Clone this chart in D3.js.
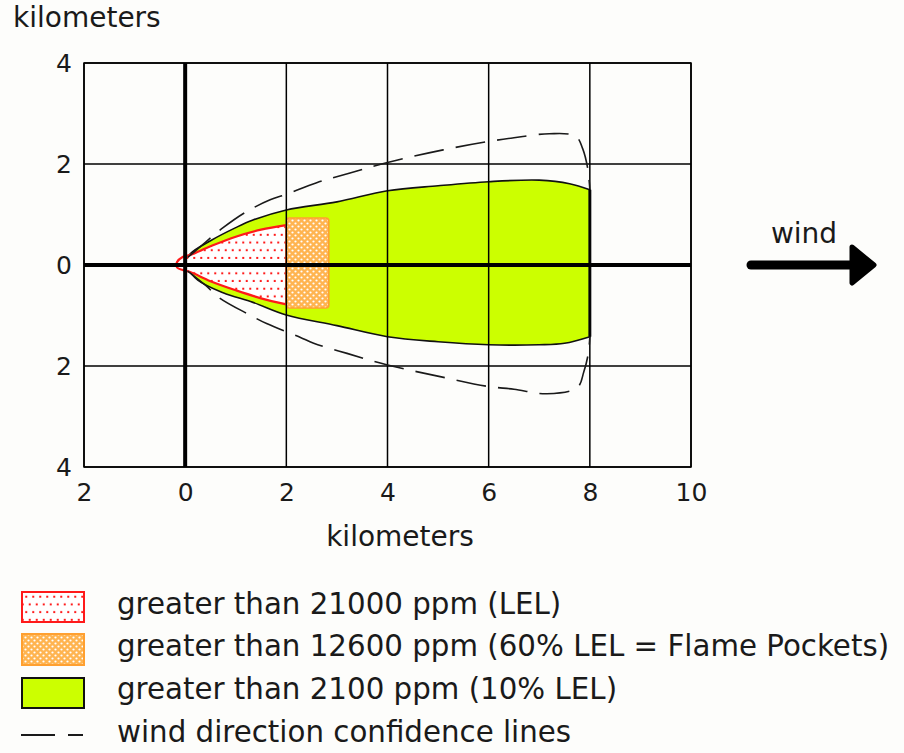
<!DOCTYPE html>
<html>
<head>
<meta charset="utf-8">
<script src="https://cdn.jsdelivr.net/npm/d3@7"></script>
<style>
  body { margin: 0; background: #fdfdfb; }
  svg { display: block; font-family: "DejaVu Sans", Verdana, sans-serif; }
  text { fill: #1a1a1a; }
</style>
</head>
<body>
<div id="chart"></div>
<script>
const width = 904;
const height = 753;

// axis ticks (km)
const xTicks = [-2, 0, 2, 4, 6, 8, 10];
const yTicks = [-4, -2, 0, 2, 4];

// 10% LEL plume envelope (green), upper and lower edges
const plumeUpper = [[0, 0], [0.1, 0.22], [0.5, 0.48], [1, 0.74], [1.34, 0.89], [2, 1.09], [3, 1.25], [4, 1.47], [5, 1.57], [6, 1.65], [7, 1.68], [7.6, 1.61], [8, 1.49]];
const plumeLower = [[0, 0], [0.25, -0.3], [0.75, -0.55], [1.34, -0.74], [2, -0.99], [3, -1.2], [4, -1.42], [5, -1.52], [6, -1.58], [7, -1.58], [7.5, -1.55], [8, -1.42]];

// LEL zone (red dotted)
const lelUpper = [[2, 0.79], [1.5, 0.7], [1, 0.56], [0.5, 0.37], [0.1, 0.2], [-0.05, 0.16], [-0.16, 0.06]];
const lelLower = [[-0.16, -0.05], [-0.05, -0.1], [0.1, -0.14], [0.5, -0.32], [1, -0.5], [1.5, -0.66], [2, -0.78]];

// flame pockets box (orange)
const flameX = [2, 2.84];
const flameY = [-0.85, 0.93];

// wind direction confidence lines
const confUpper = [[0.05, 0.15], [0.4, 0.45], [0.75, 0.74], [1.2, 1.05], [1.68, 1.29], [2, 1.4], [2.6, 1.63], [3.26, 1.82], [4, 2.03], [5.1, 2.28], [5.96, 2.44], [6.5, 2.52], [7.2, 2.6], [7.72, 2.55], [7.86, 2.3], [7.96, 1.9], [8, 1.5]];
const confLower = [[0.05, -0.12], [0.4, -0.4], [0.69, -0.66], [1.28, -0.99], [1.61, -1.16], [2.27, -1.43], [2.54, -1.55], [3.2, -1.75], [4, -1.98], [5.04, -2.21], [5.96, -2.4], [6.5, -2.46], [7.15, -2.55], [7.75, -2.43], [7.88, -2.12], [7.97, -1.75], [8, -1.42]];

const legendLabels = [
    "greater than 21000 ppm (LEL)",
    "greater than 12600 ppm (60% LEL = Flame Pockets)",
    "greater than 2100 ppm (10% LEL)",
    "wind direction confidence lines"
];

const green = "#ccff00";
const red = "#ff1a1a";
const orange = "#ffa030";

const svg = d3.select("#chart")
    .append("svg")
    .attr("width", width)
    .attr("height", height);

svg.append("rect").attr("width", width).attr("height", height).attr("fill", "#fdfdfb");

// patterns
const defs = svg.append("defs");
const redDots = defs.append("pattern")
    .attr("id", "redDots")
    .attr("patternUnits", "userSpaceOnUse")
    .attr("width", 7).attr("height", 15.4);
redDots.append("rect").attr("width", 7).attr("height", 15.4).attr("fill", "#fff");
[[1.75, 3.8], [5.25, 11.5]].forEach(p => {
    redDots.append("rect").attr("x", p[0] - 1).attr("y", p[1] - 1)
        .attr("width", 2).attr("height", 2).attr("fill", red);
});
const orangeDots = defs.append("pattern")
    .attr("id", "orangeDots")
    .attr("patternUnits", "userSpaceOnUse")
    .attr("width", 6).attr("height", 6);
orangeDots.append("rect").attr("width", 6).attr("height", 6).attr("fill", "#ffb450");
[[1.5, 1.5], [4.5, 4.5]].forEach(p => {
    orangeDots.append("circle").attr("cx", p[0]).attr("cy", p[1]).attr("r", 1.1).attr("fill", "#fff");
});

const x = d3.scaleLinear().domain([-2, 10]).range([84, 691]);
const y = d3.scaleLinear().domain([-4, 4]).range([467, 63]);

const line = d3.line()
    .x(d => x(d[0]))
    .y(d => y(d[1]))
    .curve(d3.curveCatmullRom.alpha(0.5));

// join two curved edges with straight segments
function shape(a, b) {
    return line(a) + "L" + line(b).slice(1) + "Z";
}

// green plume
svg.append("path")
    .attr("d", shape(plumeUpper, plumeLower.slice().reverse()))
    .attr("fill", green)
    .attr("stroke", "#111")
    .attr("stroke-width", 1.6);
svg.append("line")
    .attr("x1", x(8)).attr("x2", x(8))
    .attr("y1", y(plumeUpper[plumeUpper.length - 1][1]))
    .attr("y2", y(plumeLower[plumeLower.length - 1][1]))
    .attr("stroke", "#111").attr("stroke-width", 3);

// red LEL zone
svg.append("path")
    .attr("d", line(lelUpper.concat(lelLower)) + "Z")
    .attr("fill", "url(#redDots)")
    .attr("stroke", red)
    .attr("stroke-width", 2.2)
    .attr("stroke-linejoin", "round");

// orange flame pockets
svg.append("rect")
    .attr("x", x(flameX[0]))
    .attr("y", y(flameY[1]))
    .attr("width", x(flameX[1]) - x(flameX[0]))
    .attr("height", y(flameY[0]) - y(flameY[1]))
    .attr("rx", 3)
    .attr("fill", "url(#orangeDots)")
    .attr("stroke", orange)
    .attr("stroke-width", 1.6);

// grid
svg.append("g").selectAll("line")
    .data(xTicks.filter(d => d !== 0))
    .join("line")
    .attr("x1", d => x(d)).attr("x2", d => x(d))
    .attr("y1", y(4)).attr("y2", y(-4))
    .attr("stroke", "#000").attr("stroke-width", 1.5);
svg.append("g").selectAll("line")
    .data(yTicks.filter(d => d !== 0))
    .join("line")
    .attr("x1", x(-2)).attr("x2", x(10))
    .attr("y1", d => y(d)).attr("y2", d => y(d))
    .attr("stroke", "#000").attr("stroke-width", 1.5);

// confidence lines
[confUpper, confLower].forEach(c => {
    svg.append("path")
        .attr("d", line(c))
        .attr("fill", "none")
        .attr("stroke", "#1a1a1a")
        .attr("stroke-width", 1.6)
        .attr("stroke-dasharray", "30,12");
});

// thick zero axes
svg.append("line")
    .attr("x1", x(0)).attr("x2", x(0)).attr("y1", y(4)).attr("y2", y(-4))
    .attr("stroke", "#000").attr("stroke-width", 4);
svg.append("line")
    .attr("x1", x(-2)).attr("x2", x(10)).attr("y1", y(0)).attr("y2", y(0))
    .attr("stroke", "#000").attr("stroke-width", 4);

// tick labels
const xAxis = svg.append("g")
    .attr("transform", `translate(0,${y(-4)})`)
    .call(d3.axisBottom(x).tickValues(xTicks).tickSize(0).tickPadding(16).tickFormat(d => Math.abs(d)));
const yAxis = svg.append("g")
    .attr("transform", `translate(${x(-2)},0)`)
    .call(d3.axisLeft(y).tickValues(yTicks).tickSize(0).tickPadding(12).tickFormat(d => Math.abs(d)));
[xAxis, yAxis].forEach(a => {
    a.select(".domain").remove();
    a.selectAll("text")
        .attr("font-family", "DejaVu Sans, Verdana, sans-serif")
        .attr("font-size", 25)
        .attr("fill", "#1a1a1a");
});

// frame
svg.append("rect")
    .attr("x", x(-2)).attr("y", y(4))
    .attr("width", x(10) - x(-2)).attr("height", y(-4) - y(4))
    .attr("fill", "none").attr("stroke", "#000").attr("stroke-width", 1.5);

// axis titles
svg.append("text").attr("x", 13).attr("y", 27).attr("font-size", 28).text("kilometers");
svg.append("text").attr("x", 400).attr("y", 546).attr("text-anchor", "middle").attr("font-size", 28).text("kilometers");

// wind arrow
svg.append("text").attr("x", 804).attr("y", 243).attr("text-anchor", "middle").attr("font-size", 28).text("wind");
svg.append("line")
    .attr("x1", 751).attr("x2", 856).attr("y1", 265).attr("y2", 265)
    .attr("stroke", "#000").attr("stroke-width", 9).attr("stroke-linecap", "round");
svg.append("path")
    .attr("d", "M852,247 L874,265 L852,283 Z")
    .attr("fill", "#000").attr("stroke", "#000")
    .attr("stroke-width", 5).attr("stroke-linejoin", "round");

// legend
const legendY = [607, 649, 692, 735];
const lg = svg.append("g");
lg.append("rect").attr("x", 22).attr("y", 592).attr("width", 62).attr("height", 30)
    .attr("fill", "url(#redDots)").attr("stroke", red).attr("stroke-width", 2);
lg.append("rect").attr("x", 22).attr("y", 634).attr("width", 62).attr("height", 31)
    .attr("fill", "url(#orangeDots)").attr("stroke", orange).attr("stroke-width", 2);
lg.append("rect").attr("x", 22).attr("y", 678).attr("width", 62).attr("height", 30)
    .attr("fill", green).attr("stroke", "#111").attr("stroke-width", 2);
lg.append("line").attr("x1", 21).attr("x2", 83).attr("y1", legendY[3]).attr("y2", legendY[3])
    .attr("stroke", "#1a1a1a").attr("stroke-width", 1.8).attr("stroke-dasharray", "34,13,15,100");
lg.selectAll("text.lbl")
    .data(legendLabels)
    .join("text")
    .attr("class", "lbl")
    .attr("x", 117)
    .attr("y", (d, i) => legendY[i] + 7)
    .attr("font-size", 29.3)
    .text(d => d);
</script>
</body>
</html>
